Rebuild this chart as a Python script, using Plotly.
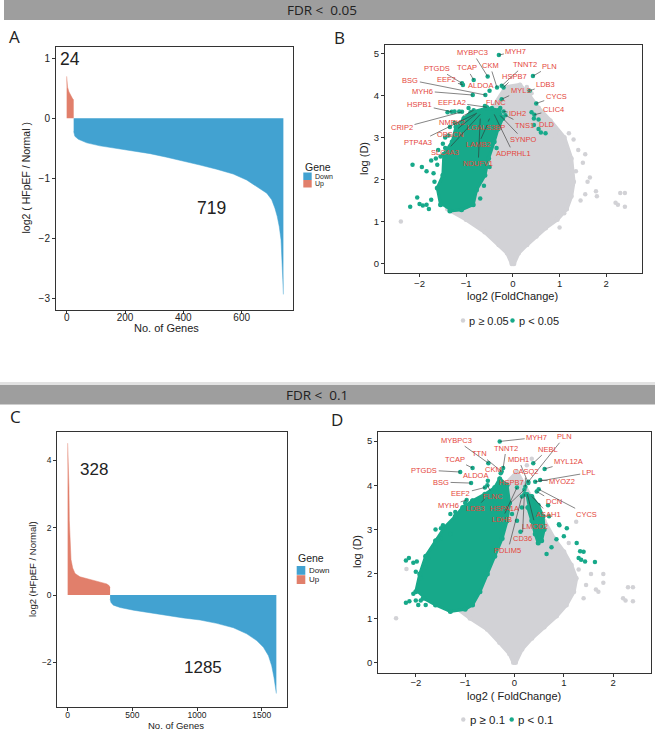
import plotly.graph_objects as go

W, H = 660, 730

# ---------------- DATA ----------------
# Panel A (FDR < 0.05): ranked log2 fold changes, read at sampled ranks
a_up_rank = [0, 1, 3, 8, 13, 17, 21, 24]
a_up_val = [0.70, 0.62, 0.52, 0.44, 0.39, 0.34, 0.32, 0.31]
a_down_rank = [24, 28, 40, 69, 114, 171, 228, 286, 343, 400, 457, 514, 571, 617,
               651, 686, 703, 714, 722, 729, 735, 739, 741, 743]
a_down_val = [-0.22, -0.30, -0.35, -0.41, -0.46, -0.50, -0.54, -0.59, -0.65, -0.71,
              -0.78, -0.85, -0.93, -1.03, -1.14, -1.25, -1.36, -1.50, -1.64, -1.81,
              -2.03, -2.36, -2.69, -2.94]
a_counts = ["24", "719"]

# Panel C (FDR < 0.1)
c_up_rank = [0, 3, 6, 10, 13, 18, 26, 39, 57, 95, 173, 250, 302, 320, 328]
c_up_val = [4.50, 4.20, 3.80, 3.20, 2.20, 1.45, 1.05, 0.80, 0.64, 0.54, 0.46, 0.40,
            0.33, 0.28, 0.22]
c_down_rank = [328, 335, 353, 405, 508, 637, 765, 894, 1023, 1152, 1281, 1384, 1461,
               1513, 1552, 1577, 1595, 1605, 1613]
c_down_val = [-0.12, -0.22, -0.30, -0.37, -0.45, -0.53, -0.61, -0.68, -0.74, -0.84,
              -0.97, -1.15, -1.35, -1.55, -1.80, -2.10, -2.45, -2.70, -2.92]
c_counts = ["328", "1285"]

# Panel B volcano (FDR < 0.05)
b_grey_fc = [0.02, 0.12, 0.30, 0.50, 0.70, 0.95, 1.15, 1.25, 1.30, 1.25, 1.10, 0.80,
             0.55, 0.35, 0.15, -0.15, -0.5, -0.9, -1.2, -1.45, -1.4, -1.0, -0.6, -0.3,
             -0.12, -0.02]
b_grey_d = [0.0, 0.25, 0.45, 0.65, 0.85, 1.05, 1.3, 1.6, 1.95, 2.5, 3.0, 3.4, 3.7,
            4.0, 4.25, 4.2, 3.6, 2.9, 2.2, 1.6, 1.3, 1.05, 0.75, 0.45, 0.25, 0.0]
b_grey_pt_fc = [-2.4, 2.2, 2.25, 2.4, 2.3, 2.4, 1.8, 1.78, 1.6, 1.65, 1.5, 1.55, 1.4,
                1.3, 1.2, 1.0, 0.9, 1.0, 1.45, 1.55, 1.35, 1.1, 0.3, 0.4]
b_grey_pt_d = [1.0, 1.45, 1.4, 1.35, 1.68, 1.68, 1.6, 1.72, 1.95, 2.05, 2.4, 2.6, 2.7,
               2.95, 3.1, 3.1, 2.95, 0.86, 1.5, 1.65, 2.2, 1.2, 4.2, 4.05]
b_green_fc = [-1.55, -1.62, -1.5, -1.48, -1.3, -1.22, -1.05, -0.9, -0.55, -0.3, -0.22,
              -0.32, -0.4, -0.52, -0.6, -0.78, -0.85, -1.1, -1.35]
b_green_d = [1.4, 1.8, 2.1, 2.6, 2.9, 3.25, 3.45, 3.6, 3.7, 3.65, 3.45, 3.2, 2.9, 2.5,
             2.1, 1.75, 1.4, 1.28, 1.25]
b_green_pt_fc = [-2.2, -2.05, -2.0, -1.93, -1.85, -1.8, -1.75, -2.15, -1.95, -1.85,
                 -1.75, -1.7, -1.65, -1.6, -1.5, -1.45, -1.35, -1.25, -1.4, -1.25,
                 -1.15, -0.95, -0.6, -0.45, -0.3, 0.45, 0.55, 0.6, 0.7, 0.4, 0.45,
                 -1.68, -1.62, -1.55, -1.45, -1.38, -0.7, -0.62, -0.5, -0.35]
b_green_pt_d = [1.35, 1.57, 1.42, 1.38, 1.4, 1.3, 1.52, 2.35, 2.3, 2.2, 2.45, 2.15,
                2.5, 2.7, 2.85, 3.0, 3.25, 3.35, 3.6, 3.62, 3.62, 3.7, 3.75, 3.7, 3.62,
                3.3, 3.2, 3.12, 3.1, 3.6, 3.45,
                1.95, 2.35, 2.55, 2.75, 3.05, 1.55, 1.85, 2.3, 2.75]
b_genes = ["MYH7", "MYBPC3", "CKM", "TNNT2", "PLN", "PTGDS", "TCAP", "HSPB7", "BSG",
           "EEF2", "ALDOA", "LDB3", "MYL9", "MYH6", "CYCS", "EEF1A2", "FLNC", "HSPB1",
           "CLIC4", "IDH2", "CRIP2", "NMRK2", "TNS1", "DLD", "LGALS3BP", "PTP4A3",
           "OBSCN", "SYNPO", "SLC4A3", "LAMB2", "ADPRHL1", "NDUFV1"]
b_gene_fc = [-0.30, -0.54, -0.34, -0.24, 0.43, -1.09, -0.84, -0.20, -0.59, -1.07,
             -0.50, 0.36, -0.24, -0.86, 0.50, -0.56, -0.27, -1.31, 0.46, -0.20, -1.09,
             -0.84, -0.16, 0.55, -0.50, -0.77, -0.80, -0.27, -0.70, -0.55, -0.40, -0.70]
b_gene_d = [4.96, 4.45, 4.19, 4.23, 4.46, 4.29, 4.37, 4.19, 4.01, 4.25, 4.11, 4.11,
            3.91, 4.01, 3.81, 3.72, 3.70, 3.61, 3.54, 3.62, 3.61, 3.65, 3.53, 3.43,
            3.45, 3.58, 3.55, 3.52, 3.55, 3.30, 3.55, 3.45]

# Panel D volcano (FDR < 0.1)
d_grey_fc = [0.02, 0.15, 0.35, 0.6, 0.85, 1.05, 1.2, 1.25, 1.15, 1.0, 0.8, 0.6, 0.4,
             0.2, 0.05, -0.2, -0.5, -0.8, -1.1, -1.2, -0.9, -0.55, -0.3, -0.1, -0.02]
d_grey_d = [0.0, 0.3, 0.55, 0.8, 1.05, 1.3, 1.6, 1.9, 2.2, 2.5, 2.8, 3.2, 3.6, 4.0,
            4.3, 4.0, 3.3, 2.5, 1.6, 1.25, 1.0, 0.75, 0.45, 0.2, 0.0]
d_grey_pt_fc = [-2.4, -2.19, 2.2, 2.25, 2.4, 2.3, 2.4, 1.8, 1.8, 1.65, 1.7, 1.4, 1.55,
                1.25, 1.3, 0.66, 1.45, 1.1, 0.25, 0.35]
d_grey_pt_d = [1.0, 2.11, 1.45, 1.4, 1.38, 1.7, 1.7, 2.0, 1.8, 1.65, 1.6, 1.45, 2.0,
               3.18, 2.1, 0.96, 1.75, 2.7, 4.45, 4.6]
d_green_fc = [-2.0, -1.92, -1.8, -1.6, -1.42, -1.2, -1.05, -0.85, -0.6, -0.4, -0.3,
              -0.15, -0.1, -0.15, -0.25, -0.4, -0.55, -0.7, -0.85, -1.0, -1.3, -1.6,
              -1.85]
d_green_d = [1.6, 2.0, 2.4, 2.75, 3.05, 3.3, 3.5, 3.65, 3.8, 3.95, 4.15, 4.0, 3.6, 3.2,
             2.8, 2.4, 2.0, 1.6, 1.3, 1.2, 1.15, 1.3, 1.45]
d_green2_fc = [0.22, 0.35, 0.48, 0.58, 0.6, 0.55, 0.48, 0.42, 0.35, 0.27]
d_green2_d = [3.8, 3.75, 3.55, 3.3, 3.0, 2.75, 2.7, 2.9, 3.2, 3.5]
d_green_pt_fc = [-2.2, -2.13, -2.05, -2.0, -1.95, -1.9, -1.8, -2.2, -2.05, -2.0, -1.8,
                 -1.75, -1.9, -1.6, -1.5, -1.6, -1.45, -1.3, -1.2, -1.0, -0.85, -0.7,
                 -2.14, -1.98, -1.49, -1.55, -1.3, 1.26, 1.4, 1.43, 1.63, 1.35, 0.91,
                 1.33, 1.3, 1.06, 1.0, 0.9, 0.85, 0.7, 0.75, 0.65, 0.68, 0.15, 0.05,
                 -0.05, 0.12]
d_green_pt_d = [1.35, 1.38, 1.55, 1.4, 1.3, 1.4, 1.3, 2.3, 2.25, 2.05, 2.15, 2.35,
                1.9, 2.6, 2.8, 3.0, 3.1, 3.35, 3.4, 3.6, 3.65, 3.7, 2.36, 2.28, 3.03,
                2.78, 2.9, 2.7, 2.5, 2.28, 2.27, 2.32, 3.1, 2.51, 2.36, 3.03, 2.85,
                3.12, 2.78, 3.3, 2.6, 2.45, 3.55, 3.5, 3.2, 3.35, 2.95]
d_genes = ["MYH7", "PLN", "MYBPC3", "TTN", "TNNT2", "NEBL", "MDH1", "MYL12A", "TCAP",
           "CKM", "PTGDS", "CASQ2", "ALDOA", "LPL", "BSG", "HSPB7", "MYOZ2", "EEF2",
           "FLNC", "MYH6", "LDB3", "HSPA1A", "DCN", "CYCS", "ASAH1", "LDHB", "LMOD2",
           "CD36", "PDLIM5"]
d_gene_fc = [-0.30, 0.28, -0.53, -0.26, -0.23, 0.38, 0.28, 0.61, -0.85, -0.28, -1.10,
             0.22, -0.54, 0.42, -0.88, -0.23, 0.52, -0.60, -0.55, -0.97, -0.60, 0.20,
             0.45, 0.49, 0.35, 0.05, 0.26, 0.20, 0.15]
d_gene_d = [4.99, 4.08, 4.50, 4.31, 4.39, 4.50, 4.05, 4.37, 4.39, 4.27, 4.30, 3.97,
            4.10, 4.08, 4.05, 3.97, 4.12, 3.95, 4.00, 3.67, 3.70, 3.90, 3.86, 3.91,
            3.75, 3.95, 3.80, 3.80, 3.75]

# ---------------- LAYOUT HELPERS ----------------
# label offsets (pixels) of the gene labels from their points
b_label_off = [(17, -4), (-15, -24), (-7, -22), (23, -21), (17, -10), (-25, -15),
               (-7, -12), (11, -11), (-75, -15), (-16, -5), (-9, -5), (16, -6),
               (19, -9), (-50, -4), (20, -7), (-35, -5), (-4, -6), (-32, -7), (19, -5),
               (14, 2), (-60, 16), (-22, 12), (19, 10), (8, 5), (-4, 9), (-59, 29),
               (-25, 20), (23, 24), (-35, 38), (-9, 20), (19, 39), (-2, 45)]
d_label_off = [(37, -4), (36, -45), (-32, -23), (-22, -18), (3, -20), (15, -14),
               (-10, -24), (24, -7), (-18, -9), (-7, -4), (-36, -2), (0, -15),
               (-12, -5), (53, -9), (-30, -1), (8, -4), (22, 2), (-24, 6), (6, 11),
               (-18, 6), (-9, 10), (-20, 19), (17, 10), (48, 25), (17, 18), (-15, 32),
               (8, 32), (-2, 44), (-14, 54)]

BLUE = "#42A2D1"
SALMON = "#E17F6B"
GREEN = "#17A98A"
GREY = "#D2D2D6"
RED = "#E4463B"
FONT = "Liberation Sans, Arial, sans-serif"


def xd(p0, p1):
    return [p0 / W, p1 / W]


def yd(top, bottom):
    return [1 - bottom / H, 1 - top / H]


fig = go.Figure()

# ---- Panel A ----
fig.add_trace(go.Scatter(x=a_up_rank, y=a_up_val, mode="lines", fill="tozeroy",
                         line=dict(color=SALMON, width=0.5), fillcolor=SALMON,
                         xaxis="x", yaxis="y", hoverinfo="skip"))
fig.add_trace(go.Scatter(x=a_down_rank, y=a_down_val, mode="lines", fill="tozeroy",
                         line=dict(color=BLUE, width=0.5), fillcolor=BLUE,
                         xaxis="x", yaxis="y", hoverinfo="skip"))
# ---- Panel C ----
fig.add_trace(go.Scatter(x=c_up_rank, y=c_up_val, mode="lines", fill="tozeroy",
                         line=dict(color=SALMON, width=0.5), fillcolor=SALMON,
                         xaxis="x3", yaxis="y3", hoverinfo="skip"))
fig.add_trace(go.Scatter(x=c_down_rank, y=c_down_val, mode="lines", fill="tozeroy",
                         line=dict(color=BLUE, width=0.5), fillcolor=BLUE,
                         xaxis="x3", yaxis="y3", hoverinfo="skip"))


def volcano(xa, ya, gfc, gd, gpfc, gpd, grn_polys, grpfc, grpd, genes, gfc2, gd2, offs):
    fig.add_trace(go.Scatter(x=gfc, y=gd, mode="lines+markers", fill="toself",
                             fillcolor=GREY, line=dict(color=GREY, width=4),
                             marker=dict(color=GREY, size=5), xaxis=xa, yaxis=ya,
                             hoverinfo="skip"))
    fig.add_trace(go.Scatter(x=gpfc, y=gpd, mode="markers",
                             marker=dict(color=GREY, size=4.5), xaxis=xa, yaxis=ya,
                             hoverinfo="skip"))
    for pfc, pd_ in grn_polys:
        fig.add_trace(go.Scatter(x=pfc, y=pd_, mode="lines+markers", fill="toself",
                                 fillcolor=GREEN, line=dict(color=GREEN, width=3),
                                 marker=dict(color=GREEN, size=5),
                                 xaxis=xa, yaxis=ya, hoverinfo="skip"))
    fig.add_trace(go.Scatter(x=grpfc, y=grpd, mode="markers",
                             marker=dict(color=GREEN, size=4.5), xaxis=xa, yaxis=ya,
                             hoverinfo="skip"))
    fig.add_trace(go.Scatter(x=gfc2, y=gd2, mode="markers",
                             marker=dict(color=GREEN, size=4.5), xaxis=xa, yaxis=ya,
                             hoverinfo="skip"))
    for g, x, y, (dx, dy) in zip(genes, gfc2, gd2, offs):
        fig.add_annotation(x=x, y=y, xref=xa, yref=ya, text=g, showarrow=True,
                           ax=dx, ay=dy, arrowhead=0, arrowwidth=0.6,
                           arrowcolor="#333333", standoff=0, startstandoff=0,
                           font=dict(size=7.5, color=RED, family=FONT))


volcano("x2", "y2", b_grey_fc, b_grey_d, b_grey_pt_fc, b_grey_pt_d,
        [(b_green_fc, b_green_d)], b_green_pt_fc, b_green_pt_d,
        b_genes, b_gene_fc, b_gene_d, b_label_off)
volcano("x4", "y4", d_grey_fc, d_grey_d, d_grey_pt_fc, d_grey_pt_d,
        [(d_green_fc, d_green_d), (d_green2_fc, d_green2_d)], d_green_pt_fc,
        d_green_pt_d, d_genes, d_gene_fc, d_gene_d, d_label_off)

axis_common = dict(showline=True, mirror=True, linecolor="#333333", linewidth=1,
                   ticks="outside", ticklen=3, tickwidth=1, tickcolor="#333333",
                   showgrid=False, zeroline=False, fixedrange=True)

fig.update_layout(
    width=W, height=H, margin=dict(l=0, r=0, t=0, b=0),
    paper_bgcolor="white", plot_bgcolor="white", showlegend=False,
    font=dict(family=FONT, color="#222222"),
    xaxis=dict(domain=xd(56, 293), range=[-36.6, 776], tickvals=[0, 200, 400, 600],
               tickfont=dict(size=10), anchor="y", ticklabelstandoff=-5,
               **axis_common),
    yaxis=dict(domain=yd(47, 310), range=[-3.2, 1.19], tickvals=[-3, -2, -1, 0, 1],
               tickfont=dict(size=10), anchor="x", **axis_common),
    xaxis2=dict(domain=xd(385, 641.7), range=[-2.74, 2.76], tickvals=[-2, -1, 0, 1, 2],
                tickfont=dict(size=9.5), anchor="y2", ticklabelstandoff=-2,
                **axis_common),
    yaxis2=dict(domain=yd(45, 273.3), range=[-0.23, 5.2], tickvals=[0, 1, 2, 3, 4, 5],
                tickfont=dict(size=9.5), anchor="x2", **axis_common),
    xaxis3=dict(domain=xd(57.3, 286.7), range=[-80, 1693], tickvals=[0, 500, 1000, 1500],
                tickfont=dict(size=8.5), anchor="y3", ticklabelstandoff=-3,
                **axis_common),
    yaxis3=dict(domain=yd(431.7, 706.7), range=[-3.31, 4.84], tickvals=[-2, 0, 2, 4],
                tickfont=dict(size=8.5), anchor="x3", **axis_common),
    xaxis4=dict(domain=xd(378.3, 650.7), range=[-2.76, 2.76], tickvals=[-2, -1, 0, 1, 2],
                tickfont=dict(size=9.5), anchor="y4", ticklabelstandoff=-2,
                **axis_common),
    yaxis4=dict(domain=yd(431.7, 672.7), range=[-0.23, 5.21], tickvals=[0, 1, 2, 3, 4, 5],
                tickfont=dict(size=9.5), anchor="x4", **axis_common),
)

shapes = []
# banners
shapes.append(dict(type="rect", xref="paper", yref="paper", x0=4 / W, x1=655 / W,
                   y0=1 - 20 / H, y1=1, fillcolor="#9E9E9E", line=dict(width=0),
                   layer="below"))
shapes.append(dict(type="rect", xref="paper", yref="paper", x0=0, x1=655 / W,
                   y0=1 - 385 / H, y1=1 - 382 / H, fillcolor="#E2E2E2",
                   line=dict(width=0), layer="below"))
shapes.append(dict(type="rect", xref="paper", yref="paper", x0=0, x1=655 / W,
                   y0=1 - 404.5 / H, y1=1 - 385 / H, fillcolor="#9E9E9E",
                   line=dict(width=0), layer="below"))


def box(x0, y0, x1, y1, color):
    shapes.append(dict(type="rect", xref="paper", yref="paper", x0=x0 / W, x1=x1 / W,
                       y0=1 - y1 / H, y1=1 - y0 / H, fillcolor=color,
                       line=dict(width=0)))


def dot(cx, cy, r, color):
    shapes.append(dict(type="circle", xref="paper", yref="paper", x0=(cx - r) / W,
                       x1=(cx + r) / W, y0=1 - (cy + r) / H, y1=1 - (cy - r) / H,
                       fillcolor=color, line=dict(width=0)))


# Gene legends
box(303.3, 172.5, 311.7, 180, BLUE)
box(303.3, 180, 311.7, 187.5, SALMON)
box(296.7, 566, 305.3, 574.8, BLUE)
box(296.7, 575.2, 305.3, 584, SALMON)
# volcano legends
dot(463, 320.5, 2.2, GREY)
dot(512.5, 320.5, 2.2, GREEN)
dot(463.3, 719.5, 2.2, GREY)
dot(511.7, 719.5, 2.2, GREEN)
fig.update_layout(shapes=shapes)


def txt(x, y, s, size, xanchor="center", angle=0, color="#222222", family=FONT):
    fig.add_annotation(x=x / W, y=1 - y / H, xref="paper", yref="paper", text=s,
                       showarrow=False, xanchor=xanchor, yanchor="middle",
                       textangle=angle, font=dict(size=size, color=color, family=family))


BANNER_FONT = "Open Sans, Noto Sans, sans-serif"
txt(322, 10.5, "FDR <  0.05", 13.5, family=BANNER_FONT)
txt(317, 395, "FDR <  0.1", 13.5, family=BANNER_FONT)
txt(14, 36.5, "A", 17, family=BANNER_FONT)
txt(339, 37.5, "B", 17, family=BANNER_FONT)
txt(15, 416, "C", 17, family=BANNER_FONT)
txt(337, 419, "D", 17, family=BANNER_FONT)

# counts
txt(69.5, 59.5, a_counts[0], 17.5)
txt(211.7, 208.3, a_counts[1], 17.5)
txt(93.8, 469.7, c_counts[0], 17)
txt(203.3, 667, c_counts[1], 17)

# axis titles
txt(166, 328.5, "No. of Genes", 11)
txt(25, 178.5, "log2 ( HFpEF / Normal )", 10.5, angle=-90)
txt(176, 725.8, "No. of Genes", 9.5)
txt(32, 569, "log2 (HFpEF / Normal)", 9.5, angle=-90)
txt(512, 295.7, "log2 (FoldChange)", 11)
txt(364, 159, "log (D)", 11, angle=-90)
txt(514, 695.7, "log2 ( FoldChange)", 11)
txt(357, 552, "log (D)", 11, angle=-90)

# Gene legends text
txt(302.5, 167.3, "Gene", 10.5, xanchor="left")
txt(312.5, 176.3, "Down", 7, xanchor="left")
txt(312.5, 183.9, "Up", 7, xanchor="left")
txt(296, 558.3, "Gene", 10.5, xanchor="left")
txt(306.5, 570.3, "Down", 8, xanchor="left")
txt(306.5, 579.6, "Up", 8, xanchor="left")

# volcano legends text
txt(467, 320.5, "p ≥ 0.05", 11, xanchor="left")
txt(516.5, 320.5, "p < 0.05", 11, xanchor="left")
txt(467.5, 719.5, "p ≥ 0.1", 11.5, xanchor="left")
txt(516, 719.5, "p < 0.1", 11.5, xanchor="left")

fig.write_html("out.html", config={"displayModeBar": False},
               post_script="document.body.style.margin='0';"
                           "document.body.style.overflow='hidden';")
